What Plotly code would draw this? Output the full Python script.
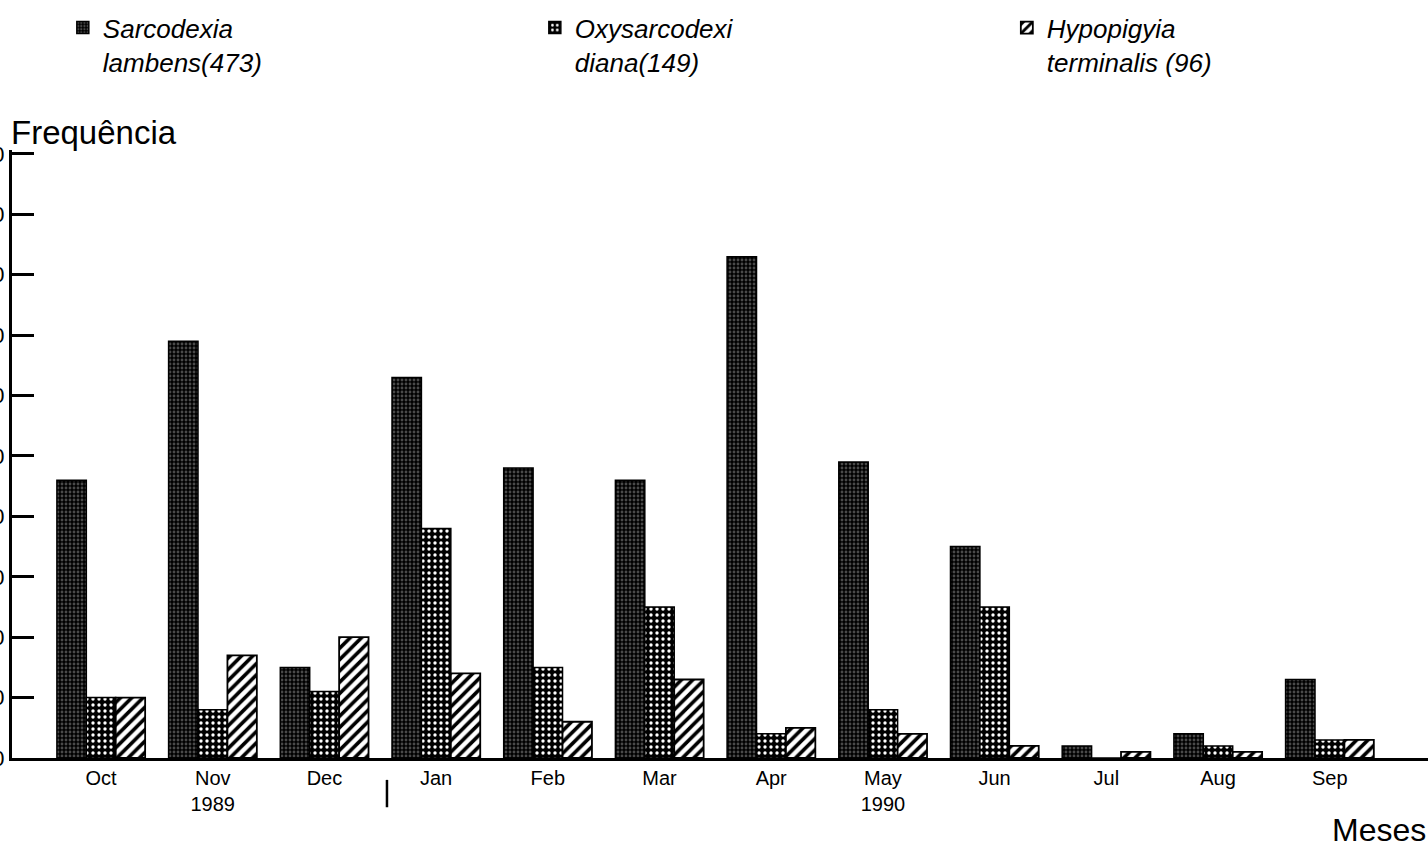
import plotly.graph_objects as go

# ---- data ----
months = ["Oct", "Nov<br>1989", "Dec", "Jan", "Feb", "Mar", "Apr",
          "May<br>1990", "Jun", "Jul", "Aug", "Sep"]
sarcodexia = [46, 69, 15, 63, 48, 46, 83, 49, 35, 2, 4, 13]
oxysarcodexia = [10, 8, 11, 38, 15, 25, 4, 8, 25, 0, 2, 3]
hypopigyia = [10, 17, 20, 14, 6, 13, 5, 4, 2, 1, 1, 3]
series_names = ["<i>Sarcodexia<br>lambens(473)</i>",
                "<i>Oxysarcodexi<br>diana(149)</i>",
                "<i>Hypopigyia<br>terminalis (96)</i>"]
y_ticks = [0, 10, 20, 30, 40, 50, 60, 70, 80, 90, 100]

FONT = "Liberation Sans, Arial, sans-serif"

fig = go.Figure()
fig.add_trace(go.Bar(
    x=months, y=sarcodexia, name=series_names[0],
    marker=dict(color="#000000", line=dict(color="black", width=1.5),
                pattern=dict(shape=".", fgcolor="#4a4a4a", bgcolor="#000000",
                             size=4, solidity=0.4, fillmode="replace")),
))
fig.add_trace(go.Bar(
    x=months, y=oxysarcodexia, name=series_names[1],
    marker=dict(color="#000000", line=dict(color="black", width=1.5),
                pattern=dict(shape=".", fgcolor="#ffffff", bgcolor="#000000",
                             size=6, solidity=0.25, fillmode="replace")),
))
fig.add_trace(go.Bar(
    x=months, y=hypopigyia, name=series_names[2],
    marker=dict(color="#ffffff", line=dict(color="black", width=1.8),
                pattern=dict(shape="/", fgcolor="#000000", bgcolor="#ffffff",
                             size=8, solidity=0.45, fillmode="replace")),
))

fig.update_layout(
    width=1428, height=844, autosize=False,
    margin=dict(l=12, r=0, t=150, b=86, pad=0),
    paper_bgcolor="white", plot_bgcolor="white",
    barmode="group", bargap=0.21, bargroupgap=0,
    font=dict(family=FONT, color="black"),
    showlegend=True,
    legend=dict(orientation="h", xref="container", yref="container",
                x=0.044, y=0.995, xanchor="left", yanchor="top",
                entrywidth=427, entrywidthmode="pixels",
                font=dict(size=26, family=FONT), valign="top",
                bgcolor="rgba(0,0,0,0)", traceorder="normal"),
    xaxis=dict(type="category", range=[-0.797, 11.88], showline=True,
               linecolor="black", linewidth=3, ticks="", showgrid=False,
               zeroline=False, automargin=False, ticklabelstandoff=0,
               tickfont=dict(size=20, family=FONT)),
    yaxis=dict(range=[0, 100.66], showline=True, linecolor="black",
               linewidth=3, ticks="inside", ticklen=22, tickwidth=2.5,
               tickcolor="black", tickvals=y_ticks,
               ticktext=[str(v) for v in y_ticks], showgrid=False,
               zeroline=False, automargin=False,
               tickfont=dict(size=22, family=FONT)),
    annotations=[
        dict(text="Frequência", xref="paper", yref="paper", x=0, y=1.0296,
             xanchor="left", yanchor="middle", showarrow=False, xshift=-3,
             font=dict(size=33, family=FONT)),
        dict(text="Meses", xref="paper", yref="paper", x=1.0, y=-0.118,
             xanchor="right", yanchor="middle", showarrow=False,
             font=dict(size=32, family=FONT)),
    ],
    shapes=[
        dict(type="line", xref="x", yref="paper", x0=2.56, x1=2.56,
             y0=-0.036, y1=-0.081, line=dict(color="black", width=2.5)),
    ],
)

fig.write_html("out.html", config={"displayModeBar": False},
               post_script="document.body.style.margin='0';")
